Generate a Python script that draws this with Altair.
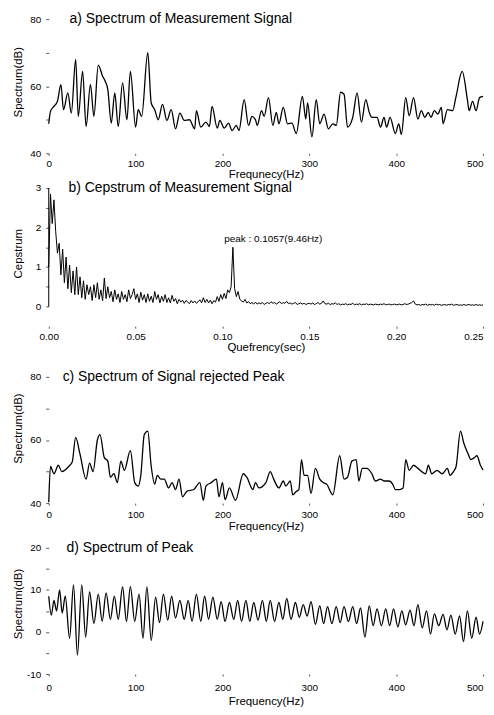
import altair as alt
import pandas as pd

FONT = "Liberation Sans"

# ---------------- data ----------------
freq_a = [0, 2, 6, 10, 14, 17, 22, 26, 31, 34, 39, 43, 48, 52, 57, 62, 65, 68, 72, 76,
          80, 85, 90, 94, 100, 103, 107, 114, 118, 122, 126, 131, 136, 141, 146, 151, 156, 162, 168, 170,
          175, 181, 185, 188, 194, 197, 202, 207, 211, 216, 219, 225, 230, 234, 238, 240, 245, 248, 253, 258,
          262, 265, 270, 275, 280, 285, 292, 296, 298, 303, 308, 312, 317, 322, 327, 331, 336, 340, 344, 350,
          355, 360, 365, 369, 372, 378, 382, 386, 389, 393, 399, 403, 406, 411, 415, 420, 425, 429, 433, 437,
          440, 444, 448, 452, 454, 459, 465, 469, 476, 482, 484, 488, 492, 496, 500]
spec_a = [48.8, 52.5, 54, 55.5, 60.5, 53, 58, 52, 68, 51, 64.4, 48, 60.5, 51, 66.3, 63, 61.5, 59, 49, 58,
          48, 61, 50, 64.4, 47.8, 53, 51, 70, 55, 53, 50, 54.6, 49.8, 53, 47.3, 52, 49.8, 50, 47.3, 52.7,
          47.8, 49.3, 48, 54, 47.5, 49.8, 47.5, 49, 46.8, 48.3, 46.8, 56, 48.3, 51, 50, 48.3, 52.7, 51, 56.6, 48.3,
          52.2, 48.8, 53.7, 48.8, 49, 45.9, 57, 50.2, 55, 44.9, 56, 48.8, 51.7, 47.3, 48.8, 48.3, 58.2, 57.6, 47.8, 50.7,
          58, 49.3, 56, 52.2, 50.7, 50.7, 47.8, 50.7, 47.8, 50.7, 45.9, 48.8, 45.6, 56.6, 51.2, 56.6, 50.2, 52.7, 50.7, 52.2,
          50.7, 52.7, 51.7, 53.7, 48.8, 53, 52.7, 57, 64.4, 56, 52.7, 55.5, 52.7, 56.6, 57]

quef_b = [round(i * 0.001, 3) for i in range(251)]
ceps_b = [1.0, 2.85, 2.1, 2.7, 1.9, 1.35, 1.6, 0.8, 1.45, 0.6,
          1.25, 0.45, 1.05, 0.35, 0.9, 0.3, 1.0, 0.3, 0.75, 0.22,
          0.65, 0.18, 0.55, 0.3, 0.5, 0.15, 0.55, 0.22, 0.6, 0.18,
          0.42, 0.14, 0.72, 0.2, 0.5, 0.22, 0.38, 0.12, 0.42, 0.18,
          0.32, 0.1, 0.38, 0.18, 0.3, 0.12, 0.42, 0.2, 0.3, 0.45,
          0.18, 0.32, 0.1, 0.36, 0.16, 0.3, 0.1, 0.32, 0.13, 0.26,
          0.1, 0.38, 0.18, 0.3, 0.09, 0.26, 0.13, 0.3, 0.1, 0.22,
          0.09, 0.28, 0.13, 0.2, 0.07, 0.18, 0.11, 0.16, 0.08, 0.15,
          0.11, 0.07, 0.15, 0.09, 0.14, 0.08, 0.12, 0.17, 0.09, 0.22,
          0.1, 0.18, 0.09, 0.16, 0.07, 0.15, 0.11, 0.25, 0.13, 0.3,
          0.18, 0.33, 0.2, 0.42, 0.35, 0.5, 1.5, 0.45, 0.25, 0.38,
          0.18, 0.14, 0.11, 0.18, 0.09, 0.12, 0.07, 0.1, 0.06, 0.11,
          0.06, 0.09, 0.07, 0.1, 0.05, 0.08, 0.1, 0.07, 0.12, 0.08,
          0.1, 0.06, 0.09, 0.12, 0.07, 0.1, 0.08, 0.13, 0.07, 0.09,
          0.06, 0.08, 0.1, 0.05, 0.07, 0.09, 0.06, 0.08, 0.05, 0.07,
          0.08, 0.06, 0.09, 0.05, 0.07, 0.1, 0.06, 0.08, 0.14, 0.07,
          0.06, 0.08, 0.05, 0.07, 0.06, 0.09, 0.05, 0.07, 0.04, 0.06,
          0.05, 0.07, 0.04, 0.06, 0.05, 0.08, 0.04, 0.06, 0.05, 0.07,
          0.04, 0.06, 0.05, 0.07, 0.04, 0.06, 0.05, 0.04, 0.06, 0.05,
          0.04, 0.06, 0.05, 0.07, 0.04, 0.05, 0.06, 0.04, 0.05, 0.06,
          0.04, 0.05, 0.06, 0.04, 0.05, 0.07, 0.05, 0.06, 0.08, 0.1,
          0.14, 0.06, 0.04, 0.05, 0.03, 0.05, 0.04, 0.06, 0.03, 0.05,
          0.04, 0.05, 0.03, 0.06, 0.04, 0.05, 0.03, 0.04, 0.05, 0.03,
          0.05, 0.04, 0.06, 0.03, 0.04, 0.05, 0.03, 0.04, 0.03, 0.05,
          0.03, 0.04, 0.05, 0.03, 0.04, 0.03, 0.05, 0.03, 0.04, 0.03, 0.04]
b_axis_span = [0, 3]

freq_c = [0, 2, 6, 11, 15, 23, 27, 31, 36, 43, 47, 51, 56, 59, 64, 68, 71, 75, 79, 83,
          87, 94, 99, 103, 106, 110, 114, 118, 122, 125, 129, 133, 138, 142, 146, 150, 154, 159, 167, 174,
          178, 181, 187, 193, 196, 200, 203, 208, 215, 224, 228, 235, 238, 242, 250, 255, 259, 265, 270, 273,
          278, 281, 285, 288, 291, 294, 298, 302, 307, 312, 316, 320, 327, 335, 340, 344, 349, 354, 357, 361,
          366, 372, 376, 382, 386, 392, 396, 399, 404, 408, 411, 415, 420, 425, 434, 437, 441, 447, 453, 459,
          462, 466, 469, 474, 478, 483, 486, 490, 493, 497, 500]
spec_c = [40.3, 51.6, 49.3, 52, 50, 51.6, 53, 60.8, 55.5, 47.6, 52.7, 50, 60, 61.7, 54.4, 53.3, 48.2, 49.3, 46.5, 53.3,
          50.4, 56.6, 46.5, 45.4, 48.8, 61.7, 62.8, 51.6, 46, 48.8, 47.6, 47.6, 44.8, 46.5, 44.3, 47.6, 42, 43.7, 44.3, 46.5,
          40.9, 45.4, 46.5, 47.6, 42, 46.5, 41.1, 44.8, 40.9, 49.3, 48.2, 44.3, 46.5, 44.8, 46.5, 50, 47.6, 44.8, 47, 45.4,
          47, 42.6, 43.7, 44.3, 53.8, 48.8, 48.8, 43.1, 51, 47.6, 46.5, 46, 42.6, 55, 47.6, 48.2, 53.3, 53.8, 47, 51,
          51, 49.3, 47, 47.6, 47, 47, 46, 44.3, 44.3, 44.8, 53.8, 50.4, 52, 51, 49.3, 52, 49.3, 50.4, 49.3, 51,
          48.8, 50, 51.6, 62.8, 58.9, 55.5, 53.8, 54.4, 55, 52, 50.5]

freq_d = [0, 3, 6, 9, 12.5, 15.5, 19, 24, 28.5, 33, 38, 42.5, 47, 52, 57, 61.5, 66, 71, 75.5, 80,
          85, 89.5, 94, 99, 104, 108.5, 113, 118, 123, 127.5, 132, 137, 141.5, 146, 151, 156, 160.5, 165, 170, 175,
          179.5, 184, 189, 194, 198.5, 203, 208, 213, 217.5, 222, 227, 231.5, 236, 241, 246, 250.5, 255, 260, 265, 269.5,
          274, 279, 284, 288.5, 293, 297.5, 302, 307, 312, 316.5, 321, 326, 331, 335.5, 340, 345, 350, 354.5, 359, 364,
          369, 373.5, 378, 383, 388, 392.5, 397, 402, 406.5, 411, 416, 420.5, 425, 430, 435, 439.5, 444, 449, 454, 458.5,
          463, 468, 473, 477.5, 482, 487, 492, 496, 500]
spec_d = [8.5, 4.0, 7.5, 5.0, 10.0, 4.5, 8.5, -1.5, 11.2, -5.5, 11.2, -1.2, 9.5, 2.0, 9.0, 2.5, 9.3, 3.0, 8.5, 3.0,
          10.7, 2.5, 10.8, 2.5, 9.0, -1.5, 10.7, -2.0, 8.3, 2.2, 9.0, 2.8, 8.5, 3.3, 7.5, 3.0, 7.5, 2.5, 9.0, 2.5,
          8.5, 3.0, 8.3, 3.0, 7.2, 2.5, 7.0, 3.0, 7.5, 2.5, 7.5, 2.5, 7.0, 2.8, 7.5, 2.5, 7.5, 2.5, 7.0, 3.0,
          8.0, 3.0, 7.0, 3.5, 6.5, 3.8, 7.2, 1.8, 6.2, 2.0, 6.0, 2.0, 6.0, 2.2, 6.0, 2.5, 6.0, 2.0, 5.7, -1.2,
          6.2, 1.5, 5.5, 1.5, 5.5, 1.5, 5.5, 1.2, 5.0, 1.7, 5.2, 1.5, 6.5, 1.0, 5.0, -0.5, 4.3, 1.5, 4.2, 0.5,
          4.0, -0.5, 3.8, -2.3, 5.0, -1.5, 3.5, -0.5, 2.5]

titles = ["a) Spectrum of Measurement Signal",
          "b) Cepstrum of Measurement Signal",
          "c)  Spectrum of Signal rejected Peak",
          "d)  Spectrum of Peak"]
title_x = [24, 0.0114, 16, 20.5]
title_y = [80, 3, 80, 20]
peak_text = ["peak : 0.1057(9.46Hz)"]
peak_text_x = [0.101]
peak_text_y = [1.72]

freq_ticks = [0, 100, 200, 300, 400, 500]
quef_ticks = [0, 0.05, 0.1, 0.15, 0.2, 0.25]


def panel(xs, ys, xdom, ydom, height, xticks, xfmt, yticks, lab_step, xtitle, ytitle,
          idx, lab_pad, title_pad, sw, interp, extra=()):
    df = pd.DataFrame({"x": xs, "y": ys})
    xsc = alt.Scale(domain=xdom, nice=False, zero=False)
    ysc = alt.Scale(domain=ydom, nice=False, zero=False)
    xaxis = alt.Axis(values=xticks, format=xfmt, title=xtitle, tickSize=2,
                     labelPadding=lab_pad, titlePadding=title_pad, labelFlush=False,
                     labelAlign={"expr": f"datum.value == {xticks[-1]} ? 'right' : 'center'"})
    yaxis = alt.Axis(values=yticks,
                     labelExpr=f"datum.value % {lab_step} == 0 ? '' + datum.value : ''",
                     title=ytitle, tickSize=3,
                     labelPadding=5, titlePadding=3.5, minExtent=22, maxExtent=22)
    X = lambda: alt.X("x:Q", scale=xsc, axis=xaxis)
    Y = lambda: alt.Y("y:Q", scale=ysc, axis=yaxis)
    line = alt.Chart(df).mark_line(color="black", strokeWidth=sw, interpolate=interp).encode(
        x=X(), y=Y(),
    )
    tdf = pd.DataFrame({"x": [title_x[idx]], "y": [title_y[idx]], "t": [titles[idx]]})
    text = alt.Chart(tdf).mark_text(align="left", baseline="middle", fontSize=14,
                                     font=FONT, color="black").encode(
        x=X(), y=Y(), text="t:N",
    )
    layers = [line, text]
    for fn in extra:
        layers.append(fn(X, Y))
    return alt.layer(*layers).properties(width=437, height=height)


def b_rule(X, Y):
    rdf = pd.DataFrame({"x": [0], "y": [b_axis_span[0]], "y2": [b_axis_span[1]]})
    return alt.Chart(rdf).mark_rule(color="black", strokeWidth=1).encode(
        x=X(), y=Y(), y2="y2:Q",
    )


def b_peak(X, Y):
    pdf = pd.DataFrame({"x": peak_text_x, "y": peak_text_y, "t": peak_text})
    return alt.Chart(pdf).mark_text(align="left", baseline="middle", fontSize=10,
                                    font=FONT, color="black").encode(
        x=X(), y=Y(), text="t:N",
    )


pa = panel(freq_a, spec_a, [0, 500], [40, 82.67], 144, freq_ticks, "d",
           [40, 50, 60, 70, 80], 20,
           "Frequnecy(Hz)", "Spectrum(dB)", 0, 3, 0, 1.3, "monotone")
pb = panel(quef_b, ceps_b, [0, 0.25], [-0.5, 3.2], 147, quef_ticks, ".2f",
           [0, 0.5, 1, 1.5, 2, 2.5, 3], 1,
           "Quefrency(sec)", "Cepstrum", 1, 3, 0, 1.0, "linear", extra=(b_rule, b_peak))
pc = panel(freq_c, spec_c, [0, 500], [40, 87.56], 151, freq_ticks, "d",
           [40, 50, 60, 70, 80], 20,
           "Frequency(Hz)", "Spectrum(dB)", 2, 5, 1, 1.3, "monotone")
pd_ = panel(freq_d, spec_d, [0, 500], [-10, 23.55], 142, freq_ticks, "d",
            [-10, -5, 0, 5, 10, 15, 20], 10,
            "Frequency(Hz)", "Spectrum(dB)", 3, 7, 3, 1.3, "monotone")

chart = alt.vconcat(pa, pb, pc, pd_, spacing=0).properties(
    padding={"left": 4, "top": 0, "right": 0, "bottom": 0}
).configure_view(stroke=None).configure_axis(
    grid=False, domain=False, labelFont=FONT, titleFont=FONT, labelFontSize=10,
    titleFontSize=11.5, titleFontWeight="normal", labelColor="black", titleColor="black",
    tickColor="#555", tickWidth=1
)

chart.save("out.html", embed_options={"renderer": "svg", "actions": False})
